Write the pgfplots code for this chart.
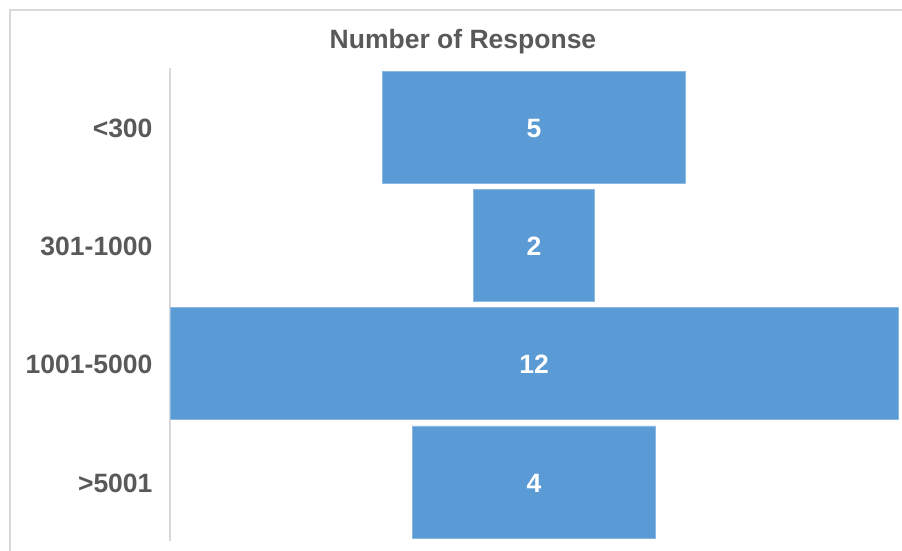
\documentclass[border=0pt]{standalone}
\usepackage{pgfplots}
\pgfplotsset{compat=1.18}
\usepackage{fontspec}
\setmainfont{Liberation Sans}
\definecolor{barblue}{HTML}{5B9BD5}
\definecolor{txtgray}{HTML}{595959}
\definecolor{linegray}{HTML}{D9D9D9}
\pgfplotsset{funnelframe/.style={
  at={(170pt,-541pt)}, anchor=south west,
  scale only axis, width=728pt, height=473pt,
  xmin=0, xmax=12, ymin=-0.5, ymax=3.5,
  y dir=reverse, clip=false}}
\begin{document}
\begin{tikzpicture}
\useasboundingbox (0pt,0pt) rectangle (902pt,-551pt);
% chart frame
\draw[linegray, line width=1.5pt] (10pt,-551pt) -- (10pt,-10pt) -- (902pt,-10pt);
% title
\node[font=\fontsize{26.5}{30}\selectfont\bfseries, text=txtgray] at (463pt,-42pt) {Number of Response};
\begin{axis}[
  funnelframe,
  xbar stacked, bar width=112pt,
  axis x line=none,
  axis y line*=left,
  y axis line style={linegray, line width=2pt, -},
  ytick={0,1,2,3},
  yticklabels={{<300},{301-1000},{1001-5000},{>5001}},
  major tick length=0pt,
  yticklabel style={font=\fontsize{26.5}{30}\selectfont\bfseries, text=txtgray, xshift=-14pt, yshift=-1pt},
]
% left padding that centres each bar
\addplot[draw=none, fill=none] coordinates {(3.5,0) (5,1) (0,2) (4,3)};
% response counts
\addplot[fill=barblue, draw=barblue!70!white, line width=0.6pt] coordinates {(5,0) (2,1) (12,2) (4,3)};
\end{axis}
% value labels at the middle of each bar
\begin{axis}[funnelframe, hide axis]
\addplot[only marks, mark=none,
  point meta=explicit symbolic,
  nodes near coords,
  nodes near coords style={anchor=center, text=white, font=\fontsize{26.5}{30}\selectfont\bfseries, inner sep=0pt, yshift=-1pt},
] coordinates {(6,0) [5] (6,1) [2] (6,2) [12] (6,3) [4]};
\end{axis}
\end{tikzpicture}
\end{document}
